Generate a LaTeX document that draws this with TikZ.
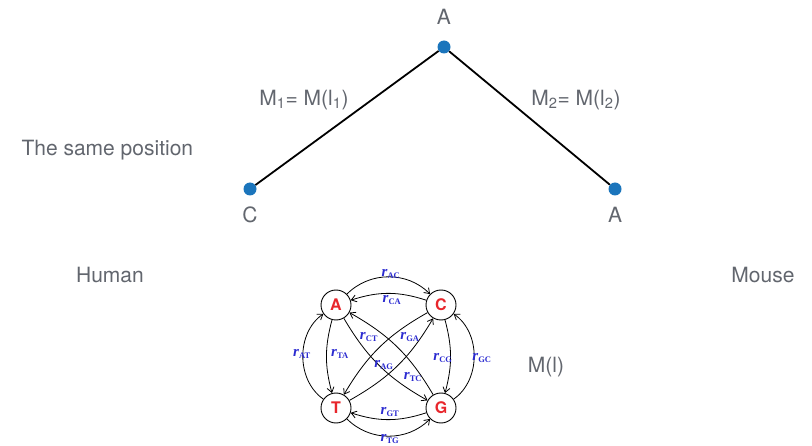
\documentclass[tikz,border=0pt]{standalone}
\usepackage{fontspec}
\setmainfont{TeX Gyre Heros}
\newfontfamily\ratefont{Liberation Serif}
\usetikzlibrary{arrows.meta}
\definecolor{labelgray}{HTML}{62666E}
\definecolor{dotblue}{HTML}{1B75BC}
\definecolor{basered}{HTML}{E8262C}
\definecolor{rateblue}{HTML}{2B2BD0}
\newcommand{\rate}[1]{{\ratefont\bfseries\itshape r}\textsubscript{\ratefont\bfseries\fontsize{8.5}{8.5}\selectfont #1}}

\begin{document}
\begin{tikzpicture}[
    x=1pt, y=1pt,
    lbl/.style={text=labelgray, font=\fontsize{21}{25}\selectfont},
    leaf/.style={circle, fill=dotblue, inner sep=0pt, minimum size=13pt},
    base/.style={circle, draw, fill=white, line width=0.9pt, minimum size=30pt, inner sep=0pt, text=basered, font=\fontsize{16}{16}\selectfont\bfseries},
    rate/.style={text=rateblue, font=\fontsize{15}{15}\selectfont, inner sep=1pt},
    trans/.style={-{Straight Barb[length=5pt,width=7pt]}, line width=0.8pt}
]
    \useasboundingbox (0,0) rectangle (812,445);
    \node[leaf] (root) at (444,398) {};
    \node[leaf] (human) at (250,256) {};
    \node[leaf] (mouse) at (615,256) {};
    \draw[line width=1.8pt] (root) -- (human);
    \draw[line width=1.8pt] (root) -- (mouse);
    \node[lbl] (rootlbl) at (444,428) {A};
    \node[lbl] (humanlbl) at (250,230) {C};
    \node[lbl] (mouselbl) at (615,230) {A};
    \node[lbl] (m1) at (304,345) {M\textsubscript{1}= M(l\textsubscript{1})};
    \node[lbl] (m2) at (576,345) {M\textsubscript{2}= M(l\textsubscript{2})};
    \node[lbl, anchor=west] (pos) at (18,295) {The same position};
    \node[lbl] (hum) at (110,170) {Human};
    \node[lbl] (mou) at (763,170) {Mouse};
    \node[lbl] (ml) at (546,78) {M(l)};

    \node[base] (A) at (336,140) {A};
    \node[base] (C) at (441,140) {C};
    \node[base] (T) at (336,37) {T};
    \node[base] (G) at (441,37) {G};
    \draw[trans] (A) to[out=45, in=135] (C);
    \draw[trans] (C) to[out=162, in=18] (A);
    \draw[trans] (T) to[out=145, in=215] (A);
    \draw[trans] (A) to[out=255, in=105] (T);
    \draw[trans] (G) to[out=35, in=-35] (C);
    \draw[trans] (C) to[out=-75, in=75] (G);
    \draw[trans] (T) to[out=-45, in=-135] (G);
    \draw[trans] (G) to[out=198, in=-18] (T);
    \draw[trans] (A) to[bend right=15] (G);
    \draw[trans] (G) to[bend right=15] (A);
    \draw[trans] (C) to[bend right=15] (T);
    \draw[trans] (T) to[bend right=15] (C);
    \node[rate] (rAC) at (391,171) {\rate{AC}};
    \node[rate] (rCA) at (392,145) {\rate{CA}};
    \node[rate] (rAT) at (302,91) {\rate{AT}};
    \node[rate] (rTA) at (340,91) {\rate{TA}};
    \node[rate] (rCG) at (443,87) {\rate{CG}};
    \node[rate] (rGC) at (482,87) {\rate{GC}};
    \node[rate] (rCT) at (369,108) {\rate{CT}};
    \node[rate] (rGA) at (410,108) {\rate{GA}};
    \node[rate] (rAG) at (384,80) {\rate{AG}};
    \node[rate] (rTC) at (413,68) {\rate{TC}};
    \node[rate] (rGT) at (390,33) {\rate{GT}};
    \node[rate] (rTG) at (390,6) {\rate{TG}};
\end{tikzpicture}
\end{document}
